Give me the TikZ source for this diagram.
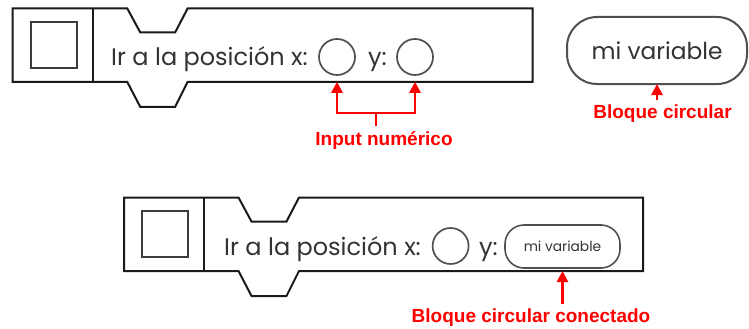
\documentclass[tikz,border=0pt]{standalone}
\usepackage{fontspec}
\usetikzlibrary{arrows.meta}
\newfontfamily\blockfont{Poppins}
\newfontfamily\labelfont{Liberation Sans}
\definecolor{ink}{HTML}{333333}
\definecolor{edge}{HTML}{1A1A1A}
\definecolor{slotc}{HTML}{505050}
\definecolor{lbl}{HTML}{FF0000}
\tikzset{
  blockedge/.style={draw=edge, line width=2pt, line join=miter},
  innersq/.style={draw=edge!85, line width=1.8pt},
  slot/.style={circle, draw=slotc, line width=1.7pt, minimum size=36pt, inner sep=0pt, outer sep=0pt},
  bigpill/.style={draw=slotc, line width=2pt, rounded corners=30pt, minimum width=180pt, minimum height=67pt, inner sep=0pt, outer sep=0pt,
    font=\blockfont\fontsize{23.3}{28}\selectfont, text=ink},
  smallpill/.style={draw=slotc, line width=1.6pt, rounded corners=19pt, minimum width=115pt, minimum height=43pt, inner sep=0pt, outer sep=0pt,
    font=\blockfont\fontsize{13.8}{17}\selectfont, text=ink},
  btext/.style={font=\blockfont\fontsize{24}{30}\selectfont, text=ink, inner sep=0pt, anchor=base west},
  redlbl/.style={font=\labelfont\bfseries\fontsize{19}{22}\selectfont, text=lbl, inner xsep=0pt, inner ysep=4.5pt, anchor=base},
  redarrow/.style={draw=lbl, line width=2.6pt, -{Triangle[width=11pt,length=11pt]}},
  redline/.style={draw=lbl, line width=2.6pt},
}
\begin{document}
\begin{tikzpicture}[x=1pt,y=-1pt]
\useasboundingbox (0,0) rectangle (749,329);

% ---------- top block ----------
\begin{scope}[shift={(12.7,8.3)}]
  \draw[blockedge] (0,0) -- (114.5,0) -- (127.5,24) -- (162.5,24) -- (175,0) -- (520,0)
    -- (520,73.5) -- (175,73.5) -- (162.5,98.5) -- (127.5,98.5) -- (114.5,73.5) -- (0,73.5) -- cycle;
  \draw[blockedge] (80,0) -- (80,73.5);
  \draw[innersq] (18.3,13.7) rectangle (64.3,59.7);
  \coordinate (b1bot) at (0,73.5);
\end{scope}
\node[btext] (t1) at (111,66) {Ir a la posición x:};
\node[slot] (cx1) at (337,57) {};
\node[btext] (ty1) at (368,66) {y:};
\node[slot] (cy1) at (415,57) {};

% ---------- variable block ----------
\node[bigpill] (bp) at (657,50.5) {mi variable};

% ---------- bottom block ----------
\begin{scope}[shift={(124,197.5)}]
  \draw[blockedge] (0,0) -- (114.5,0) -- (127.5,24) -- (162.5,24) -- (175,0) -- (519,0)
    -- (519,73.5) -- (175,73.5) -- (162.5,98.5) -- (127.5,98.5) -- (114.5,73.5) -- (0,73.5) -- cycle;
  \draw[blockedge] (80,0) -- (80,73.5);
  \draw[innersq] (18.3,13.7) rectangle (64.3,59.7);
  \coordinate (b2bot) at (0,73.5);
\end{scope}
\node[btext] (t2) at (224,255.5) {Ir a la posición x:};
\node[slot] (cx2) at (450.6,246) {};
\node[btext] (ty2) at (479,255.5) {y:};
\node[smallpill] (sp) at (562.5,246.5) {mi variable};

% ---------- red labels ----------
\node[redlbl] (lin) at (384,145) {Input numérico};
\node[redlbl] (lbc) at (662.5,118) {Bloque circular};
\node[redlbl] (lbcc) at (531,322) {Bloque circular conectado};

\coordinate (bar) at (376,113);
\draw[redline] (lin.north -| bar) -- (bar);
\draw[redarrow] (bar) -| (cx1 |- b1bot);
\draw[redarrow] (bar) -| (cy1 |- b1bot);
\draw[redarrow] (lbc.north -| bp.south) -- (bp.south);
\draw[redarrow] (lbcc.north -| sp.south) -- (sp |- b2bot);
\end{tikzpicture}
\end{document}
